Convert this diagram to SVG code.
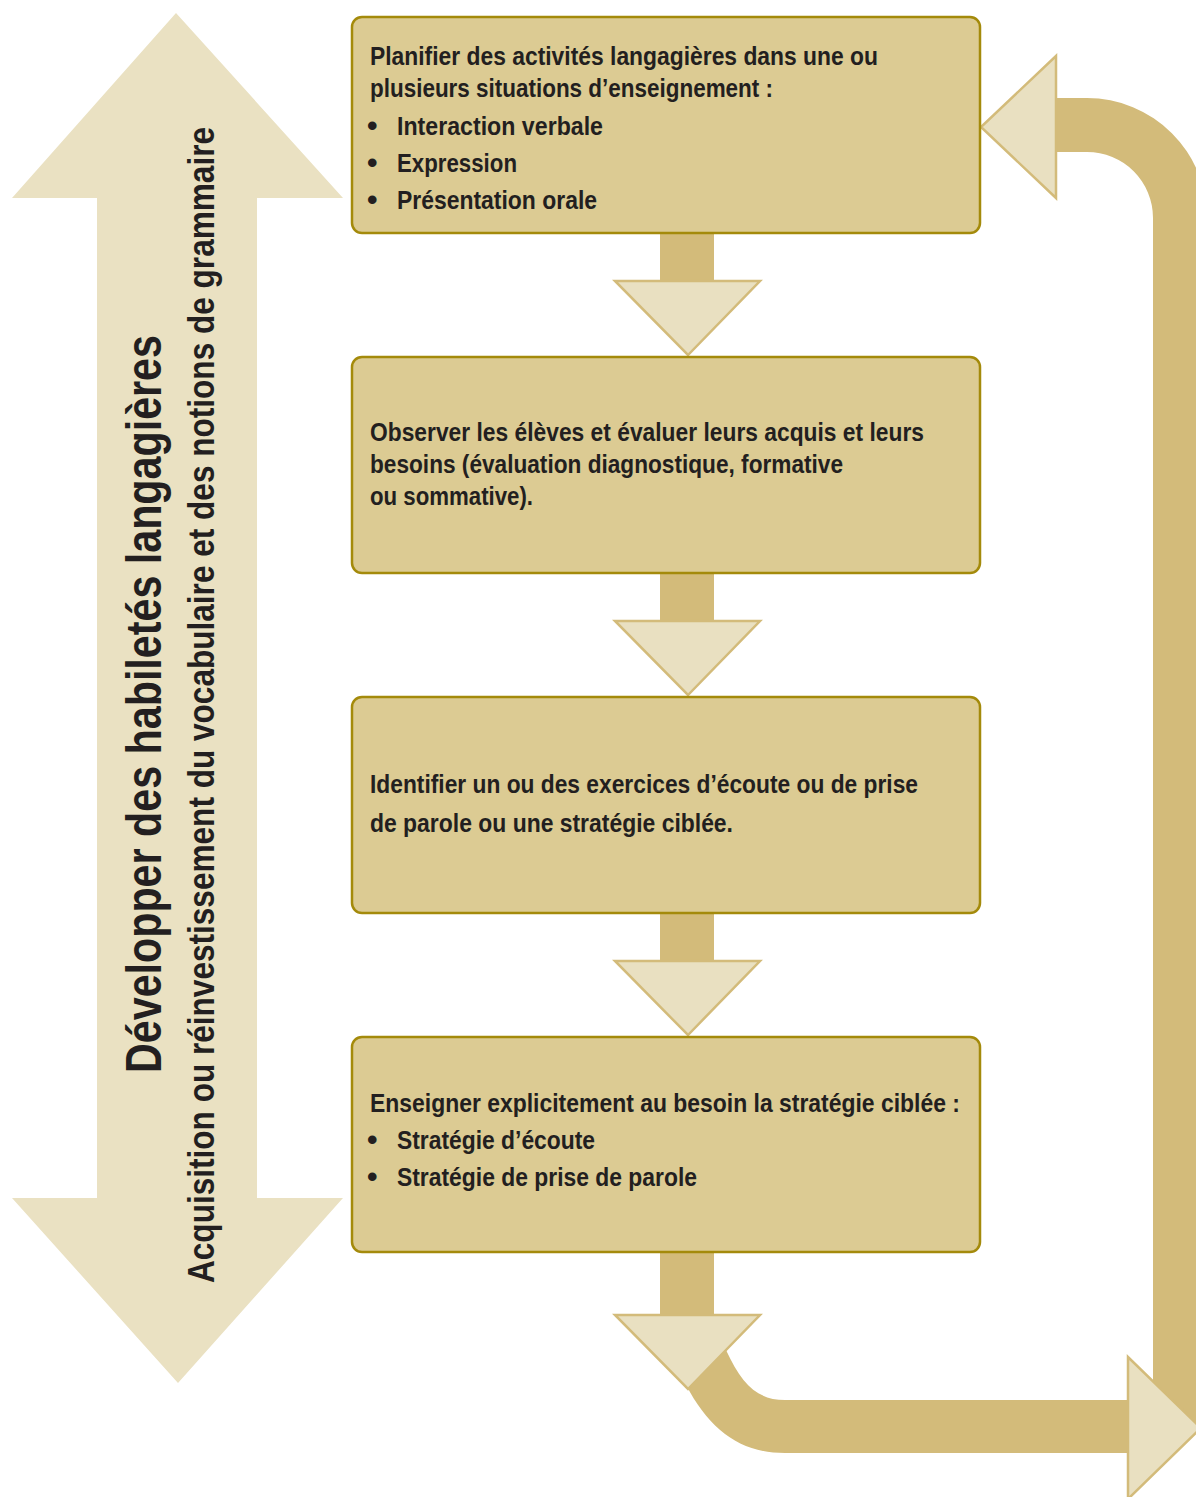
<svg xmlns="http://www.w3.org/2000/svg" width="1196" height="1497" viewBox="0 0 1196 1497">
<style>
.box{fill:#dccb93;stroke:#a48a0b;stroke-width:2.5}
.band{fill:#d3bb7a}
.tri{fill:#e9e0c1;stroke:#d3bb7a;stroke-width:2.5;stroke-linejoin:miter}
.t{font-family:"Liberation Sans Narrow","Liberation Sans","DejaVu Sans",sans-serif;font-weight:bold;fill:#231f20}
.bt{font-size:26.5px}
.bul{font-family:"Liberation Sans","DejaVu Sans",sans-serif;font-size:30px;font-weight:bold;fill:#231f20}
</style>
<rect width="1196" height="1497" fill="#ffffff"/>
<g id="side-arrow">
<polygon points="176,13 343,198 257,198 257,1198 343,1198 178,1383 12,1198 97,1198 97,198 12,198" fill="#eae1c2"/>
<text class="t" font-size="50" text-anchor="middle" textLength="738" lengthAdjust="spacingAndGlyphs" transform="translate(161,704) rotate(-90)">Développer des habiletés langagières</text>
<text class="t" font-size="37" text-anchor="middle" textLength="1156" lengthAdjust="spacingAndGlyphs" transform="translate(214,705) rotate(-90)">Acquisition ou réinvestissement du vocabulaire et des notions de grammaire</text>
</g>
<g id="connectors">
<path class="band" d="M1056,98 L1087,98 A120,120 0 0 1 1207,218 L1207,1425 L1153,1425 L1153,218 A66,66 0 0 0 1087,152 L1056,152 Z"/>
<path class="band" d="M686,1385 C710,1430 740,1453 785,1453 L1132,1453 L1132,1400 L785,1400 C758,1400 742,1385 726,1350 Z"/>
<rect class="band" x="660" y="232" width="54" height="50"/>
<rect class="band" x="660" y="572" width="54" height="50"/>
<rect class="band" x="660" y="912" width="54" height="50"/>
<rect class="band" x="660" y="1251" width="54" height="64"/>
<polygon class="tri" points="615,281 760,281 688,355"/>
<polygon class="tri" points="615,621 760,621 688,695"/>
<polygon class="tri" points="615,961 760,961 688,1035"/>
<polygon class="tri" points="615,1315 760,1315 688,1389"/>
<polygon class="tri" points="1128,1357 1128,1499 1201,1428"/>
<polygon class="tri" points="1056,56 1056,198 981,127"/>
</g>
<g id="box1">
<rect class="box" x="352" y="17" width="628" height="216" rx="10"/>
<text class="t bt" x="370" y="65" textLength="508" lengthAdjust="spacingAndGlyphs">Planifier des activités langagières dans une ou</text>
<text class="t bt" x="370" y="97" textLength="403" lengthAdjust="spacingAndGlyphs">plusieurs situations d’enseignement :</text>
<text class="bul" x="367" y="136">•</text>
<text class="t bt" x="397" y="135" textLength="206" lengthAdjust="spacingAndGlyphs">Interaction verbale</text>
<text class="bul" x="367" y="173">•</text>
<text class="t bt" x="397" y="172" textLength="120" lengthAdjust="spacingAndGlyphs">Expression</text>
<text class="bul" x="367" y="210">•</text>
<text class="t bt" x="397" y="209" textLength="200" lengthAdjust="spacingAndGlyphs">Présentation orale</text>
</g>
<g id="box2">
<rect class="box" x="352" y="357" width="628" height="216" rx="10"/>
<text class="t bt" x="370" y="441" textLength="554" lengthAdjust="spacingAndGlyphs">Observer les élèves et évaluer leurs acquis et leurs</text>
<text class="t bt" x="370" y="473" textLength="473" lengthAdjust="spacingAndGlyphs">besoins (évaluation diagnostique, formative</text>
<text class="t bt" x="370" y="505" textLength="163" lengthAdjust="spacingAndGlyphs">ou sommative).</text>
</g>
<g id="box3">
<rect class="box" x="352" y="697" width="628" height="216" rx="10"/>
<text class="t bt" x="370" y="793" textLength="548" lengthAdjust="spacingAndGlyphs">Identifier un ou des exercices d’écoute ou de prise</text>
<text class="t bt" x="370" y="832" textLength="363" lengthAdjust="spacingAndGlyphs">de parole ou une stratégie ciblée.</text>
</g>
<g id="box4">
<rect class="box" x="352" y="1037" width="628" height="215" rx="10"/>
<text class="t bt" x="370" y="1112" textLength="590" lengthAdjust="spacingAndGlyphs">Enseigner explicitement au besoin la stratégie ciblée :</text>
<text class="bul" x="367" y="1150">•</text>
<text class="t bt" x="397" y="1149" textLength="198" lengthAdjust="spacingAndGlyphs">Stratégie d’écoute</text>
<text class="bul" x="367" y="1187">•</text>
<text class="t bt" x="397" y="1186" textLength="300" lengthAdjust="spacingAndGlyphs">Stratégie de prise de parole</text>
</g>
</svg>
